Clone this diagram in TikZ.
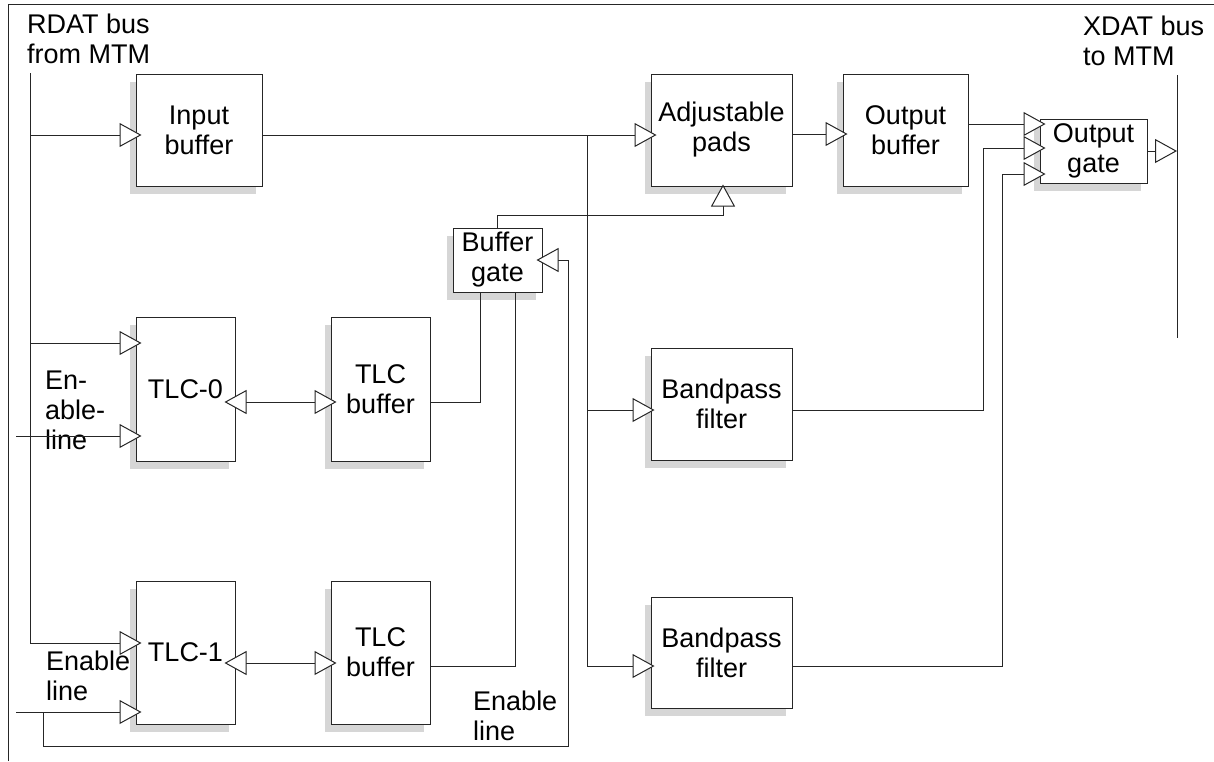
\documentclass[tikz,border=0pt]{standalone}
\usepackage{fontspec}
\setmainfont{Liberation Sans}
\usetikzlibrary{arrows.meta,calc,shadows}
\definecolor{ln}{HTML}{262626}
\definecolor{shd}{HTML}{D6D6D6}
\begin{document}
\begin{tikzpicture}[x=1pt,y=-1pt,
  box/.style={draw=ln, line width=1pt, fill=white, inner sep=0pt, align=center,
    font=\fontsize{27}{30}\selectfont,
    drop shadow={shadow xshift=-6pt, shadow yshift=-8pt, fill=shd, opacity=1, draw=none}},
  lbl/.style={inner sep=0pt, align=left, font=\fontsize{27}{30}\selectfont, text=black},
  wire/.style={draw=ln, line width=1pt},
  arr/.style={wire, -{Triangle[open, fill=white, length=22pt, width=24pt]}},
  arrtwo/.style={wire, {Triangle[open, fill=white, length=22pt, width=24pt]}-{Triangle[open, fill=white, length=22pt, width=24pt]}}]
\useasboundingbox (0,0) rectangle (1214,761);
% frame
\draw[wire] (8,761) -- (8,4) -- (1214,4);
% boxes
\node[box, minimum width=126pt, minimum height=112pt] (inbuf) at (199,130) {Input\\buffer};
\node[box, minimum width=141pt, minimum height=112pt] (adj) at (721.5,130) {Adjustable\\pads};
\node[box, minimum width=125pt, minimum height=112pt] (outbuf) at (905.5,130) {Output\\buffer};
\node[box, minimum width=107pt, minimum height=64pt] (outgate) at (1093.5,151) {Output\\gate};
\node[box, minimum width=89pt, minimum height=64pt] (bufgate) at (497.5,260) {Buffer\\gate};
\node[box, minimum width=99pt, minimum height=144pt] (tlc0) at (185.5,389) {TLC-0};
\node[box, minimum width=99pt, minimum height=144pt] (tlcbuf0) at (380.5,389) {TLC\\buffer};
\node[box, minimum width=99pt, minimum height=143pt] (tlc1) at (185.5,652.5) {TLC-1};
\node[box, minimum width=99pt, minimum height=143pt] (tlcbuf1) at (380.5,652.5) {TLC\\buffer};
\node[box, minimum width=141pt, minimum height=112pt] (bp1) at (721.5,404) {Bandpass\\filter};
\node[box, minimum width=141pt, minimum height=111pt] (bp2) at (721.5,652.5) {Bandpass\\filter};
% labels (base anchor = baseline of last line)
\node[lbl, anchor=base west] (rdatlbl) at (27,63) {RDAT bus\\from MTM};
\node[lbl, anchor=base west] (xdatlbl) at (1083,65) {XDAT bus\\to MTM};
\node[lbl, anchor=base west] (en0lbl) at (45,449) {En-\\able-\\line};
\node[lbl, anchor=base west] (en1lbl) at (46,700) {Enable\\line};
\node[lbl, anchor=base west] (en2lbl) at (473,740) {Enable\\line};
% arrow target points
\coordinate (inbufin) at ($(inbuf.west)+(6,5)$);
\coordinate (adjin) at ($(adj.west)+(6,5)$);
\coordinate (adjbot) at ($(adj.south)+(1.5,-2)$);
\coordinate (outbufin) at ($(outbuf.west)+(5,4)$);
\coordinate (og1) at ($(outgate.west)+(6,-27)$);
\coordinate (og2) at ($(outgate.west)+(6,-3)$);
\coordinate (og3) at ($(outgate.west)+(6,23)$);
\coordinate (bgin) at ($(bufgate.east)+(-6,0)$);
\coordinate (t0a) at ($(tlc0.west)+(6,-46)$);
\coordinate (t0b) at ($(tlc0.west)+(6,47)$);
\coordinate (t0r) at ($(tlc0.east)+(-11,13)$);
\coordinate (tb0l) at ($(tlcbuf0.west)+(6,13)$);
\coordinate (t1a) at ($(tlc1.west)+(6,-9.5)$);
\coordinate (t1b) at ($(tlc1.west)+(6,59.5)$);
\coordinate (t1r) at ($(tlc1.east)+(-11,10.5)$);
\coordinate (tb1l) at ($(tlcbuf1.west)+(6,10.5)$);
\coordinate (bp1in) at ($(bp1.west)+(4,6)$);
\coordinate (bp2in) at ($(bp2.west)+(4,13.5)$);
% bus ends
\coordinate (rdatT) at (30,73);
\coordinate (xdatT) at (1177,75);
\coordinate (xdatB) at (1177,338);
\coordinate (busT) at (587,135);
\coordinate (en0) at (16,436);
\coordinate (en1) at (16,712);
\coordinate (loopA) at (43,712);
% RDAT bus
\draw[arr] (rdatT) -- (rdatT |- t1a) -- (t1a);
\draw[arr] (rdatT |- inbufin) -- (inbufin);
\draw[arr] (rdatT |- t0a) -- (t0a);
% enable lines
\draw[arr] (en0) -- (t0b);
\draw[arr] (en1) -- (t1b);
\draw[arr] (loopA) |- ($(bgin)+(32,486)$) |- (bgin);
% TLC links
\draw[arrtwo] (t0r) -- (tb0l);
\draw[arrtwo] (t1r) -- (tb1l);
\draw[wire] (tlcbuf0.east |- tb0l) -| ($(bufgate.south)+(-17.5,0)$);
\draw[wire] ($(tlcbuf1.east)+(0,13.5)$) -| ($(bufgate.south)+(17.5,0)$);
\draw[arr] (bufgate.north) |- ($(adjbot)+(0,31)$) -- (adjbot);
% main path
\draw[arr] (inbuf.east |- adjin) -- (adjin);
\draw[arr] (busT) -- (busT |- bp2in) -- (bp2in);
\draw[arr] (busT |- bp1in) -- (bp1in);
\draw[arr] (adj.east |- outbufin) -- (outbufin);
\draw[arr] (outbuf.east |- og1) -- (og1);
\draw[arr] (bp1.east |- bp1in) -| ($(og2)+(-62,0)$) -- (og2);
\draw[arr] (bp2.east |- bp2in) -| ($(og3)+(-43,0)$) -- (og3);
% XDAT bus
\draw[wire] (xdatT) -- (xdatB);
\draw[arr] (outgate.east) -- (outgate.east -| xdatT);
\end{tikzpicture}
\end{document}
